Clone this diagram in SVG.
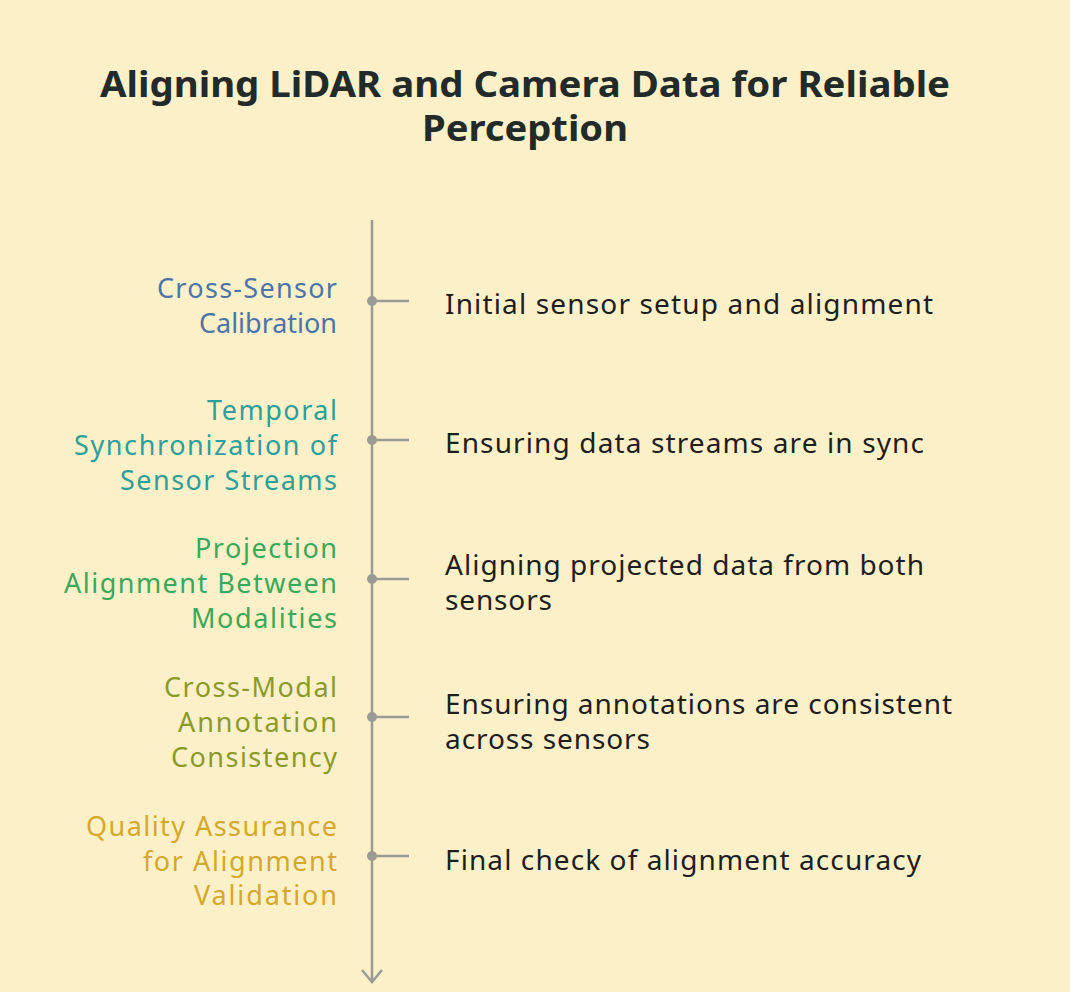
<svg xmlns="http://www.w3.org/2000/svg" width="1070" height="992" viewBox="0 0 1070 992">
<style>
.t{font-family:"Noto Sans","Open Sans",sans-serif;font-weight:bold;font-size:35px;fill:#222a2a;text-anchor:middle}
.l{font-family:"Noto Sans","Open Sans",sans-serif;font-size:27px;text-anchor:end}
.d{font-family:"Noto Sans","Open Sans",sans-serif;font-size:28px;fill:#1e1e1e}
.ln{stroke:#9a9a96;stroke-width:2.5;fill:none}
.dot{fill:#9a9a96}
</style>
<rect width="1070" height="992" fill="#fcf0c8"/>
<text class="t" x="525" y="97" textLength="850" lengthAdjust="spacingAndGlyphs">Aligning LiDAR and Camera Data for Reliable</text>
<text class="t" x="525" y="141" textLength="206" lengthAdjust="spacingAndGlyphs">Perception</text>
<g id="connectors">
<path class="ln" d="M372 220V982M362 970L372 982L382 970"/>
<path class="ln" d="M372 301H409M372 440H409M372 579H409M372 717H409M372 856H409"/>
</g>
<g id="n1"><circle class="dot" cx="372" cy="301" r="5"/>
<text class="l" fill="#4d74a8" x="337" y="298" textLength="180">Cross-Sensor</text><text class="l" fill="#4d74a8" x="337" y="333" textLength="138">Calibration</text>
<text class="d" x="445" y="314" textLength="488">Initial sensor setup and alignment</text></g>
<g id="n2"><circle class="dot" cx="372" cy="440" r="5"/>
<text class="l" fill="#2e9e9a" x="337" y="420" textLength="130">Temporal</text><text class="l" fill="#2e9e9a" x="337" y="455" textLength="263">Synchronization of</text><text class="l" fill="#2e9e9a" x="337" y="490" textLength="217">Sensor Streams</text>
<text class="d" x="445" y="453" textLength="479">Ensuring data streams are in sync</text></g>
<g id="n3"><circle class="dot" cx="372" cy="579" r="5"/>
<text class="l" fill="#3aa85a" x="337" y="558" textLength="142">Projection</text><text class="l" fill="#3aa85a" x="337" y="593" textLength="273">Alignment Between</text><text class="l" fill="#3aa85a" x="337" y="628" textLength="146">Modalities</text>
<text class="d" x="445" y="575" textLength="479">Aligning projected data from both</text><text class="d" x="445" y="610" textLength="107">sensors</text></g>
<g id="n4"><circle class="dot" cx="372" cy="717" r="5"/>
<text class="l" fill="#8a9a2a" x="337" y="697" textLength="173">Cross-Modal</text><text class="l" fill="#8a9a2a" x="337" y="732" textLength="159">Annotation</text><text class="l" fill="#8a9a2a" x="337" y="767" textLength="166">Consistency</text>
<text class="d" x="445" y="714" textLength="507">Ensuring annotations are consistent</text><text class="d" x="445" y="749" textLength="205">across sensors</text></g>
<g id="n5"><circle class="dot" cx="372" cy="856" r="5"/>
<text class="l" fill="#d4a82a" x="337" y="836" textLength="251">Quality Assurance</text><text class="l" fill="#d4a82a" x="337" y="871" textLength="194">for Alignment</text><text class="l" fill="#d4a82a" x="337" y="905" textLength="143">Validation</text>
<text class="d" x="445" y="870" textLength="476">Final check of alignment accuracy</text></g>
</svg>
